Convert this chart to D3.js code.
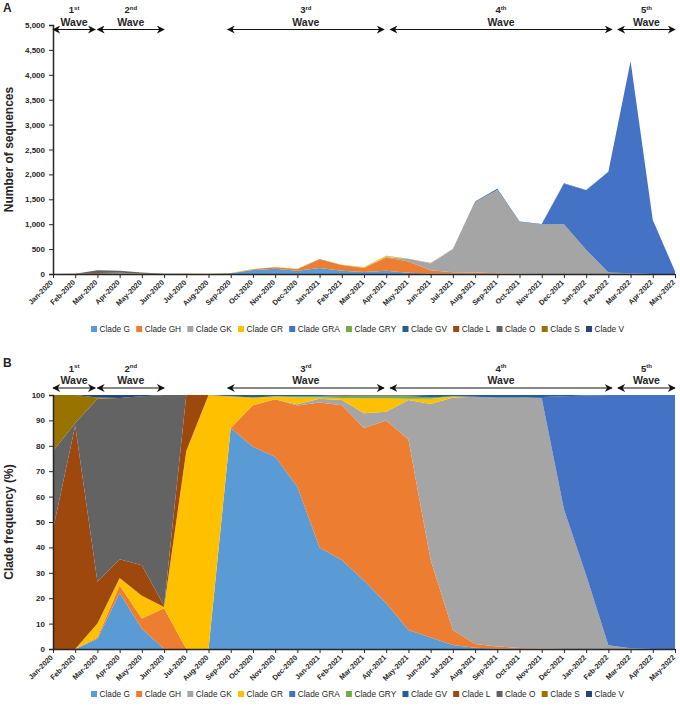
<!DOCTYPE html>
<html>
<head>
<meta charset="utf-8">
<script src="https://cdn.jsdelivr.net/npm/d3@7"></script>
<style>
  body { margin: 0; background: #fff; }
  svg text { font-family: "Liberation Sans", Arial, sans-serif; fill: #262626; }
</style>
</head>
<body>
<div id="chart"></div>
<script>
// Months on the x axis (Jan-2020 .. May-2022)
var months = ["Jan-2020", "Feb-2020", "Mar-2020", "Apr-2020", "May-2020", "Jun-2020", "Jul-2020", "Aug-2020",
    "Sep-2020", "Oct-2020", "Nov-2020", "Dec-2020", "Jan-2021", "Feb-2021", "Mar-2021", "Apr-2021",
    "May-2021", "Jun-2021", "Jul-2021", "Aug-2021", "Sep-2021", "Oct-2021", "Nov-2021", "Dec-2021",
    "Jan-2022", "Feb-2022", "Mar-2022", "Apr-2022", "May-2022"];

var clades = ["Clade G", "Clade GH", "Clade GK", "Clade GR", "Clade GRA", "Clade GRY",
    "Clade GV", "Clade L", "Clade O", "Clade S", "Clade V"];
var cladeColors = ["#5B9BD5", "#ED7D31", "#A5A5A5", "#FFC000", "#4472C4", "#70AD47",
    "#255E91", "#9E480E", "#636363", "#997300", "#264478"];

// total number of sequences per month (panel A)
var totalSequences = [1, 3, 75, 66, 30, 5, 3, 4, 20, 100, 140, 106, 300, 186, 140, 366,
    306, 220, 500, 1455, 1710, 1055, 1005, 1820, 1686, 2053, 4270, 1085, 55];

// clade frequency per month in % (panel B)
var cladeG   = [0, 0, 4, 22, 8, 0, 0, 0, 87, 79.6, 75.7, 63.9, 40, 35, 27, 18, 7.5, 4.5, 1.6, 0.5, 0.2, 0.1, 0, 0, 0, 0, 0, 0, 0];
var cladeGH  = [0, 0, 0.5, 3, 4, 16, 0, 0, 0, 16.4, 22.6, 32, 57, 61, 60, 72, 75, 30.5, 5.9, 1.5, 0.8, 0.3, 0.2, 0, 0, 0, 0, 0, 0];
var cladeGK  = [0, 0, 0, 0, 0, 0, 0, 0, 0, 0, 0, 0.5, 1.5, 2, 5.8, 3.4, 15.5, 61.5, 91.5, 97.3, 98, 98.6, 98.5, 55, 29, 1.5, 0.3, 0, 0];
var cladeGR  = [0, 0, 5.5, 3, 9, 0.5, 78, 100, 12.5, 3, 1.2, 2.6, 0.5, 0.8, 5.9, 5.3, 0.5, 2, 0.5, 0, 0, 0, 0, 0, 0, 0, 0, 0, 0];
var cladeGRA = [0, 0, 0, 0, 0, 0, 0, 0, 0, 0, 0, 0, 0, 0, 0, 0, 0, 0, 0, 0, 0, 0, 0.5, 44.5, 70.8, 98.5, 99.7, 100, 100];
var cladeGRY = [0, 0, 0, 0, 0, 0, 0, 0, 0, 0, 0, 0.5, 0.5, 0.6, 0.8, 0.8, 1, 0.5, 0, 0, 0, 0, 0, 0, 0, 0, 0, 0, 0];
var cladeGV  = [0, 0, 0, 0, 0, 0, 0, 0, 0.5, 1, 0.5, 0.5, 0.5, 0.3, 0.3, 0.3, 0.3, 1, 0.5, 0.7, 1, 1, 0.8, 0.5, 0.2, 0, 0, 0, 0];
var cladeL   = [47, 88, 16.5, 7.3, 12, 0.5, 22, 0, 0, 0, 0, 0, 0, 0.3, 0.2, 0.2, 0.2, 0, 0, 0, 0, 0, 0, 0, 0, 0, 0, 0, 0];
var cladeO   = [31, 1, 72, 63.5, 66.5, 83, 0, 0, 0, 0, 0, 0, 0, 0, 0, 0, 0, 0, 0, 0, 0, 0, 0, 0, 0, 0, 0, 0, 0];
var cladeS   = [22, 11, 0.5, 0, 0, 0, 0, 0, 0, 0, 0, 0, 0, 0, 0, 0, 0, 0, 0, 0, 0, 0, 0, 0, 0, 0, 0, 0, 0];
var cladeV   = [0, 0, 1, 1.2, 0.5, 0, 0, 0, 0, 0, 0, 0, 0, 0, 0, 0, 0, 0, 0, 0, 0, 0, 0, 0, 0, 0, 0, 0, 0];

// wave annotations (start / end as month index)
var waveNumbers = ["1", "2", "3", "4", "5"];
var waveSuffix = ["st", "nd", "rd", "th", "th"];
var waveStart = [0, 2, 7.86, 15.18, 25.43];
var waveEnd = [1.9, 5, 14.9, 25.16, 28];

var cladeSeries = [cladeG, cladeGH, cladeGK, cladeGR, cladeGRA, cladeGRY, cladeGV, cladeL, cladeO, cladeS, cladeV];

function init() {
    var w = 680, h = 708;
    var left = 53, right = 675;

    var svg = d3.select("#chart").append("svg")
        .attr("width", w)
        .attr("height", h);

    // arrow marker for the wave spans
    var defs = svg.append("defs");
    defs.append("marker")
        .attr("id", "arrow")
        .attr("viewBox", "0 0 10 10")
        .attr("refX", 9).attr("refY", 5)
        .attr("markerWidth", 8).attr("markerHeight", 8)
        .attr("markerUnits", "userSpaceOnUse")
        .attr("orient", "auto-start-reverse")
        .append("path")
        .attr("d", "M0,0 L10,5 L0,10 L3,5 Z")
        .attr("fill", "#111");

    var xScale = d3.scaleLinear().domain([0, months.length - 1]).range([left, right]);

    // rows of data keyed by clade
    var pctRows = months.map(function(m, i) {
        var row = {};
        clades.forEach(function(c, k) { row[c] = cladeSeries[k][i]; });
        return row;
    });
    var countRows = months.map(function(m, i) {
        var sum = d3.sum(cladeSeries, function(s) { return s[i]; });
        var row = {};
        clades.forEach(function(c, k) { row[c] = totalSequences[i] * cladeSeries[k][i] / sum; });
        return row;
    });

    var stack = d3.stack().keys(clades);
    var stackPct = d3.stack().keys(clades).offset(d3.stackOffsetExpand);

    drawPanel({
        label: "A", top: 25, bottom: 274, arrowY: 29.5,
        series: stack(countRows), max: 5000, step: 500,
        fmt: d3.format(","), title: "Number of sequences",
        legendY: 330, letterY: 12
    });
    drawPanel({
        label: "B", top: 395, bottom: 649, arrowY: 388,
        series: stackPct(pctRows).map(function(s) {
            s.forEach(function(d) { d[0] *= 100; d[1] *= 100; });
            return s;
        }),
        max: 100, step: 10,
        fmt: d3.format("d"), title: "Clade frequency (%)",
        legendY: 695, letterY: 367
    });

    function drawPanel(p) {
        var yScale = d3.scaleLinear().domain([0, p.max]).range([p.bottom, p.top]);
        var g = svg.append("g");

        var area = d3.area()
            .x(function(d, i) { return xScale(i); })
            .y0(function(d) { return yScale(d[0]); })
            .y1(function(d) { return yScale(d[1]); });

        g.selectAll("path.layer")
            .data(p.series)
            .enter()
            .append("path")
            .attr("class", "layer")
            .attr("fill", function(d, i) { return cladeColors[i]; })
            .attr("d", area);

        // y axis
        var yAxis = g.append("g")
            .attr("transform", "translate(" + left + ",0)")
            .call(d3.axisLeft(yScale)
                .tickValues(d3.range(0, p.max + 0.001, p.step))
                .tickFormat(p.fmt)
                .tickSize(4).tickPadding(4));
        yAxis.select(".domain").attr("stroke", "#262626").attr("stroke-width", 1.5);
        yAxis.selectAll(".tick line").attr("stroke", "#262626");
        yAxis.selectAll("text").attr("font-size", 8).attr("font-weight", "bold");

        // x axis
        var xAxis = g.append("g")
            .attr("transform", "translate(0," + p.bottom + ")")
            .call(d3.axisBottom(xScale)
                .tickValues(d3.range(months.length))
                .tickFormat(function(i) { return months[i]; })
                .tickSize(4).tickSizeOuter(0));
        xAxis.select(".domain").attr("stroke", "#262626").attr("stroke-width", 1.5);
        xAxis.selectAll(".tick line").attr("stroke", "#262626");
        xAxis.selectAll("text")
            .attr("font-size", 7.3).attr("font-weight", "bold")
            .attr("text-anchor", "end")
            .attr("dy", null).attr("y", 0)
            .attr("transform", "translate(0,9) rotate(-45)");

        // y axis title
        g.append("text")
            .attr("transform", "translate(13," + (p.top + p.bottom) / 2 + ") rotate(-90)")
            .attr("text-anchor", "middle")
            .attr("font-size", 12)
            .attr("font-weight", "bold")
            .text(p.title);

        // panel letter
        g.append("text")
            .attr("x", 3).attr("y", p.letterY)
            .attr("font-size", 12).attr("font-weight", "bold")
            .text(p.label);

        // wave arrows
        var arrowY = p.arrowY;
        waveNumbers.forEach(function(n, k) {
            var x0 = xScale(waveStart[k]), x1 = xScale(waveEnd[k]);
            g.append("line")
                .attr("x1", x0).attr("x2", x1)
                .attr("y1", arrowY).attr("y2", arrowY)
                .attr("stroke", "#111").attr("stroke-width", 1)
                .attr("marker-start", "url(#arrow)")
                .attr("marker-end", "url(#arrow)");
            var cx = (x0 + x1) / 2;
            var num = g.append("text")
                .attr("x", cx).attr("y", arrowY - 16.5)
                .attr("text-anchor", "middle")
                .attr("font-size", 9.5).attr("font-weight", "bold");
            num.append("tspan").text(n);
            num.append("tspan").attr("font-size", 6).attr("dy", -3.5).text(waveSuffix[k]);
            g.append("text")
                .attr("x", cx).attr("y", arrowY - 4)
                .attr("text-anchor", "middle")
                .attr("font-size", 10.5).attr("font-weight", "bold")
                .text("Wave");
        });

        // legend, spread between x = 91 and x = 624
        var legend = g.append("g").attr("transform", "translate(0," + p.legendY + ")");
        var items = legend.selectAll("g.legend")
            .data(clades)
            .enter()
            .append("g")
            .attr("class", "legend");
        items.append("rect")
            .attr("y", -4).attr("width", 6).attr("height", 6)
            .attr("fill", function(d, i) { return cladeColors[i]; });
        items.append("text")
            .attr("x", 8.5).attr("y", 2.3)
            .attr("font-size", 8.3)
            .text(function(d) { return d; });
        var widths = [];
        items.each(function() {
            widths.push(8.5 + d3.select(this).select("text").node().getComputedTextLength());
        });
        var legendLeft = 91, legendRight = 624;
        var gap = (legendRight - legendLeft - d3.sum(widths)) / (clades.length - 1);
        var pos = legendLeft, offsets = [];
        widths.forEach(function(wd) { offsets.push(pos); pos += wd + gap; });
        items.attr("transform", function(d, i) { return "translate(" + offsets[i] + ",0)"; });
    }
}

window.onload = init;
</script>
</body>
</html>
